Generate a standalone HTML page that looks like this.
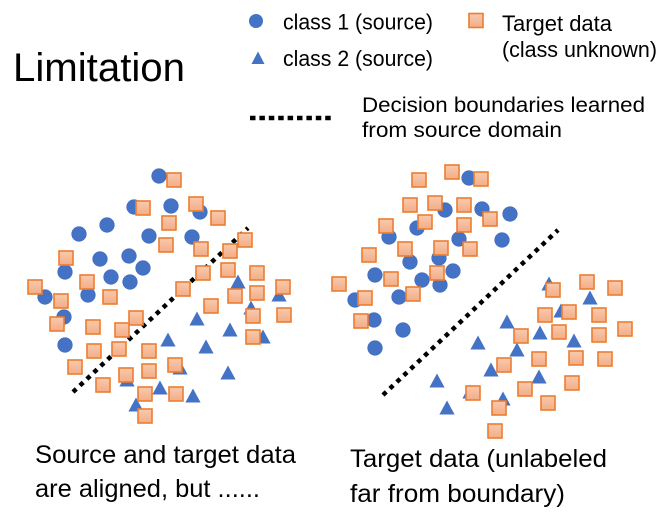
<!DOCTYPE html>
<html>
<head>
<meta charset="utf-8">
<style>
html,body{margin:0;padding:0;background:#fff;}
svg{display:block;}
text{font-family:"Liberation Sans",Arial,sans-serif;fill:#000;}
</style>
</head>
<body>
<svg width="665" height="516" viewBox="0 0 665 516" xmlns="http://www.w3.org/2000/svg">
<defs>
  <linearGradient id="g" x1="0" y1="0" x2="0" y2="1">
    <stop offset="0" stop-color="#F9CAAE"/>
    <stop offset="1" stop-color="#F3AD86"/>
  </linearGradient>
  <rect id="sq" x="-7" y="-7" width="14" height="14" fill="url(#g)" stroke="#ED7D31" stroke-width="1.6"/>
  <circle id="ci" r="7.3" fill="#4472C4" stroke="#3F6AB8" stroke-width="0.6"/>
  <path id="tr" d="M0,-7.5 L7.6,6.5 L-7.6,6.5Z" fill="#4472C4"/>
</defs>
<rect width="665" height="516" fill="#fff"/>

<!-- Title -->
<text x="13" y="81" font-size="40" textLength="172" lengthAdjust="spacingAndGlyphs" fill="#111">Limitation</text>

<!-- Legend -->
<circle cx="256" cy="21" r="7" fill="#4472C4"/>
<text x="283" y="29.5" font-size="22" textLength="150" lengthAdjust="spacingAndGlyphs">class 1 (source)</text>
<path d="M258,51.5 L264.5,64 L251.5,64Z" fill="#4472C4"/>
<text x="283" y="66" font-size="22" textLength="150" lengthAdjust="spacingAndGlyphs">class 2 (source)</text>
<rect x="469" y="13.5" width="14" height="14" fill="url(#g)" stroke="#ED7D31" stroke-width="1.6"/>
<text x="502" y="31" font-size="22" textLength="110" lengthAdjust="spacingAndGlyphs">Target data</text>
<text x="502" y="57" font-size="22" textLength="155" lengthAdjust="spacingAndGlyphs">(class unknown)</text>
<line x1="250" y1="118" x2="331" y2="118" stroke="#000" stroke-width="4.5" stroke-dasharray="5.5 3.9"/>
<text x="362" y="112" font-size="21" textLength="283" lengthAdjust="spacingAndGlyphs">Decision boundaries learned</text>
<text x="362" y="137" font-size="21" textLength="200" lengthAdjust="spacingAndGlyphs">from source domain</text>

<!-- Left cluster: circles -->
<g>
<use href="#ci" x="159" y="176"/><use href="#ci" x="134" y="207"/><use href="#ci" x="171" y="206"/>
<use href="#ci" x="200" y="212"/><use href="#ci" x="107" y="225"/><use href="#ci" x="79" y="234"/>
<use href="#ci" x="149" y="236"/><use href="#ci" x="192" y="237"/><use href="#ci" x="100" y="259"/>
<use href="#ci" x="129" y="256"/><use href="#ci" x="143" y="268"/><use href="#ci" x="65" y="272"/>
<use href="#ci" x="111" y="277"/><use href="#ci" x="130" y="282"/><use href="#ci" x="45" y="297"/>
<use href="#ci" x="88" y="295"/><use href="#ci" x="64" y="317"/><use href="#ci" x="65" y="345"/>
</g>
<!-- Left triangles -->
<g>
<use href="#tr" x="238" y="282"/><use href="#tr" x="279" y="295"/><use href="#tr" x="251" y="308"/>
<use href="#tr" x="197" y="319"/><use href="#tr" x="230" y="330"/><use href="#tr" x="263" y="337"/>
<use href="#tr" x="168" y="340"/><use href="#tr" x="206" y="347"/><use href="#tr" x="180" y="368"/>
<use href="#tr" x="228" y="373"/><use href="#tr" x="127" y="380"/><use href="#tr" x="160" y="388"/>
<use href="#tr" x="193" y="396"/><use href="#tr" x="136" y="405"/>
</g>
<!-- Left boundary -->
<line x1="73" y1="392" x2="248" y2="228" stroke="#000" stroke-width="4.5" stroke-dasharray="4.5 5"/>
<!-- Left squares -->
<g>
<use href="#sq" x="174" y="180"/><use href="#sq" x="143" y="208"/><use href="#sq" x="196" y="204"/>
<use href="#sq" x="218" y="218"/><use href="#sq" x="169" y="223"/><use href="#sq" x="166" y="245"/>
<use href="#sq" x="201" y="249"/><use href="#sq" x="245" y="240"/><use href="#sq" x="230" y="251"/>
<use href="#sq" x="66" y="258"/><use href="#sq" x="87" y="282"/><use href="#sq" x="35" y="287"/>
<use href="#sq" x="203" y="273"/><use href="#sq" x="228" y="270"/><use href="#sq" x="257" y="273"/>
<use href="#sq" x="283" y="287"/><use href="#sq" x="183" y="289"/><use href="#sq" x="61" y="301"/>
<use href="#sq" x="110" y="297"/><use href="#sq" x="235" y="296"/><use href="#sq" x="257" y="293"/>
<use href="#sq" x="211" y="306"/><use href="#sq" x="136" y="318"/><use href="#sq" x="57" y="324"/>
<use href="#sq" x="93" y="327"/><use href="#sq" x="122" y="330"/><use href="#sq" x="253" y="316"/>
<use href="#sq" x="284" y="315"/><use href="#sq" x="253" y="337"/><use href="#sq" x="94" y="351"/>
<use href="#sq" x="119" y="349"/><use href="#sq" x="149" y="351"/><use href="#sq" x="75" y="367"/>
<use href="#sq" x="149" y="371"/><use href="#sq" x="175" y="365"/><use href="#sq" x="126" y="375"/>
<use href="#sq" x="103" y="385"/><use href="#sq" x="145" y="394"/><use href="#sq" x="176" y="394"/>
<use href="#sq" x="145" y="416"/>
</g>

<!-- Right cluster: circles -->
<g>
<use href="#ci" x="469" y="178"/><use href="#ci" x="445" y="210"/><use href="#ci" x="482" y="209"/>
<use href="#ci" x="510" y="214"/><use href="#ci" x="417" y="228"/><use href="#ci" x="389" y="237"/>
<use href="#ci" x="459" y="239"/><use href="#ci" x="502" y="240"/><use href="#ci" x="410" y="262"/>
<use href="#ci" x="439" y="258"/><use href="#ci" x="453" y="271"/><use href="#ci" x="375" y="275"/>
<use href="#ci" x="422" y="280"/><use href="#ci" x="440" y="285"/><use href="#ci" x="355" y="300"/>
<use href="#ci" x="399" y="297"/><use href="#ci" x="374" y="320"/><use href="#ci" x="403" y="330"/>
<use href="#ci" x="375" y="348"/>
</g>
<!-- Right triangles -->
<g>
<use href="#tr" x="549" y="284"/><use href="#tr" x="590" y="298"/><use href="#tr" x="561" y="311"/>
<use href="#tr" x="507" y="322"/><use href="#tr" x="540" y="333"/><use href="#tr" x="574" y="341"/>
<use href="#tr" x="478" y="343"/><use href="#tr" x="517" y="350"/><use href="#tr" x="491" y="370"/>
<use href="#tr" x="539" y="377"/><use href="#tr" x="437" y="381"/><use href="#tr" x="470" y="392"/>
<use href="#tr" x="503" y="399"/><use href="#tr" x="447" y="408"/>
</g>
<!-- Right boundary -->
<line x1="383" y1="395" x2="558" y2="230" stroke="#000" stroke-width="4.5" stroke-dasharray="4.5 5"/>
<!-- Right squares -->
<g>
<use href="#sq" x="452" y="172"/><use href="#sq" x="419" y="180"/><use href="#sq" x="481" y="179"/>
<use href="#sq" x="410" y="205"/><use href="#sq" x="435" y="203"/><use href="#sq" x="464" y="205"/>
<use href="#sq" x="425" y="222"/><use href="#sq" x="490" y="219"/><use href="#sq" x="386" y="226"/>
<use href="#sq" x="464" y="225"/><use href="#sq" x="405" y="249"/><use href="#sq" x="441" y="248"/>
<use href="#sq" x="470" y="249"/><use href="#sq" x="369" y="255"/><use href="#sq" x="437" y="273"/>
<use href="#sq" x="391" y="279"/><use href="#sq" x="339" y="284"/><use href="#sq" x="365" y="298"/>
<use href="#sq" x="413" y="294"/><use href="#sq" x="361" y="321"/><use href="#sq" x="553" y="290"/>
<use href="#sq" x="587" y="282"/><use href="#sq" x="615" y="288"/><use href="#sq" x="545" y="315"/>
<use href="#sq" x="569" y="312"/><use href="#sq" x="599" y="315"/><use href="#sq" x="559" y="332"/>
<use href="#sq" x="521" y="336"/><use href="#sq" x="599" y="335"/><use href="#sq" x="625" y="329"/>
<use href="#sq" x="539" y="359"/><use href="#sq" x="576" y="358"/><use href="#sq" x="605" y="359"/>
<use href="#sq" x="504" y="365"/><use href="#sq" x="572" y="383"/><use href="#sq" x="525" y="389"/>
<use href="#sq" x="473" y="393"/><use href="#sq" x="548" y="403"/><use href="#sq" x="499" y="408"/>
<use href="#sq" x="495" y="431"/>
</g>

<!-- Bottom captions -->
<text x="35" y="463" font-size="25" textLength="261" lengthAdjust="spacingAndGlyphs">Source and target data</text>
<text x="35" y="497" font-size="25" textLength="225" lengthAdjust="spacingAndGlyphs">are aligned, but ......</text>
<text x="350" y="467" font-size="25" textLength="257" lengthAdjust="spacingAndGlyphs">Target data (unlabeled</text>
<text x="350" y="502" font-size="25" textLength="215" lengthAdjust="spacingAndGlyphs">far from boundary)</text>
</svg>
</body>
</html>
